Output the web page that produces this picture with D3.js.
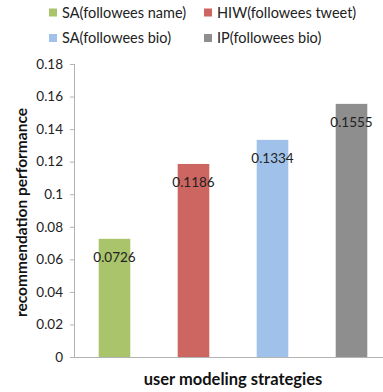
<!DOCTYPE html>
<html>
<head>
<meta charset="utf-8">
<script src="https://cdn.jsdelivr.net/npm/d3@7"></script>
<style>
  html, body { margin: 0; padding: 0; background: #fff; }
  svg { display: block; font-family: Lato, "Open Sans", sans-serif; }
</style>
</head>
<body>
<svg id="chart" width="383" height="392"></svg>
<script>
// Strategies compared, their scores and colours
const strategies = ["SA(followees name)", "HIW(followees tweet)", "SA(followees bio)", "IP(followees bio)"];
const performance = [0.0726, 0.1186, 0.1334, 0.1555];
const barColors = ["#a9c46b", "#cd6560", "#a0c2ea", "#8e8e8e"];
const yTicks = [0, 0.02, 0.04, 0.06, 0.08, 0.1, 0.12, 0.14, 0.16, 0.18];

const svg = d3.select("#chart");
const margin = { left: 75, right: -8, top: 64, bottom: 35 };
const W = 383, H = 392;

const x = d3.scaleBand()
  .domain(strategies)
  .range([margin.left, W - margin.right])
  .paddingInner(0.6)
  .paddingOuter(0.3);

const y = d3.scaleLinear()
  .domain([0, 0.18])
  .range([H - margin.bottom, margin.top]);

const axisColor = "#b3b3b3";

// Y axis
const yAxis = svg.append("g")
  .attr("transform", `translate(${margin.left},0)`)
  .call(d3.axisLeft(y).tickValues(yTicks).tickSize(5).tickPadding(7)
    .tickFormat(d => d === 0 ? "0" : d3.format("~g")(d)));
yAxis.selectAll("path, line").attr("stroke", axisColor);
yAxis.select(".domain").attr("d", `M-0.5,${y(0)}V${y(0.18)}`);
yAxis.selectAll("text").attr("font-family", "Lato, sans-serif")
  .attr("font-size", 13.5).attr("fill", "#222");

// X axis baseline
svg.append("line")
  .attr("x1", margin.left - 5).attr("x2", W)
  .attr("y1", y(0) + 0.5).attr("y2", y(0) + 0.5)
  .attr("stroke", axisColor);

// Bars
svg.append("g").selectAll("rect")
  .data(strategies)
  .join("rect")
  .attr("x", d => x(d))
  .attr("width", x.bandwidth())
  .attr("y", (d, i) => y(performance[i]))
  .attr("height", (d, i) => y(0) - y(performance[i]))
  .attr("fill", (d, i) => barColors[i]);

// Value labels
svg.append("g").selectAll("text")
  .data(strategies)
  .join("text")
  .attr("x", d => x(d) + x.bandwidth() / 2)
  .attr("y", (d, i) => y(performance[i]) + 18)
  .attr("dy", "0.35em")
  .attr("text-anchor", "middle")
  .attr("font-size", 13.5)
  .attr("fill", "#222")
  .text((d, i) => performance[i]);

// Axis titles
svg.append("text")
  .attr("x", (margin.left + W - margin.right) / 2)
  .attr("y", 379)
  .attr("dy", "0.35em")
  .attr("text-anchor", "middle")
  .attr("font-size", 16.5)
  .attr("font-weight", "bold")
  .attr("fill", "#111")
  .text("user modeling strategies");

svg.append("text")
  .attr("transform", `translate(22,${(y(0) + y(0.18)) / 2 + 2}) rotate(-90)`)
  .attr("dy", "0.35em")
  .attr("text-anchor", "middle")
  .attr("font-size", 15.5)
  .attr("font-weight", "bold")
  .attr("fill", "#111")
  .text("recommendation performance");

// Legend, two columns by two rows
const legendPos = [[49, 12.5], [204, 12.5], [49, 38], [204, 38]];
const legend = svg.append("g").selectAll("g")
  .data(strategies)
  .join("g")
  .attr("transform", (d, i) => `translate(${legendPos[i][0]},${legendPos[i][1]})`);
legend.append("rect")
  .attr("x", 0).attr("y", -4).attr("width", 8).attr("height", 8)
  .attr("fill", (d, i) => barColors[i]);
legend.append("text")
  .attr("x", 13).attr("dy", "0.35em")
  .attr("font-size", 14.5)
  .attr("fill", "#222")
  .text(d => d);
</script>
</body>
</html>
